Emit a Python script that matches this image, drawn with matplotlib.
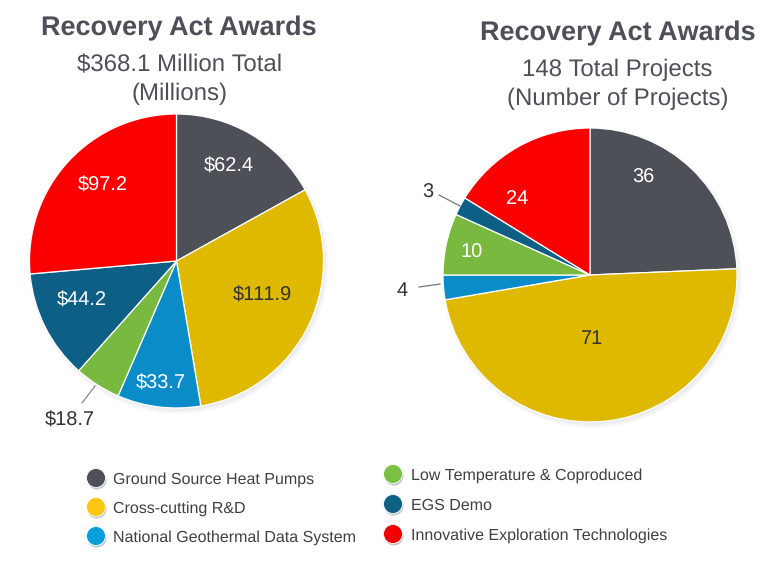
import matplotlib
matplotlib.use("Agg")
import matplotlib.pyplot as plt
from matplotlib.patches import Circle

plt.rcParams["font.family"] = ["Liberation Sans", "DejaVu Sans"]
plt.rcParams["text.hinting"] = "no_hinting"
plt.rcParams["text.hinting_factor"] = 1

W, H = 780, 569

categories = [
    "Ground Source Heat Pumps",
    "Cross-cutting R&D",
    "National Geothermal Data System",
    "Low Temperature & Coproduced",
    "EGS Demo",
    "Innovative Exploration Technologies",
]
colors = ["#4d5057", "#dfb800", "#0a8cc8", "#7ab93f", "#0d5f86", "#fb0000"]
legend_colors = ["#4d5057", "#fdc60e", "#0a9ddb", "#7ac143", "#0f6184", "#f00000"]

funding = [62.4, 111.9, 33.7, 18.7, 44.2, 97.2]
funding_labels = ["$62.4", "$111.9", "$33.7", "$18.7", "$44.2", "$97.2"]
projects = [36, 71, 4, 10, 3, 24]
project_labels = ["36", "71", "4", "10", "3", "24"]

fig = plt.figure(figsize=(W / 100, H / 100), dpi=100, facecolor="white")

# soft shadows sit on their own axes under the pies
bg = fig.add_axes([0, 0, 1, 1], facecolor="none")
bg.set_xlim(0, W)
bg.set_ylim(H, 0)
bg.axis("off")


def draw_shadow(ax, cx, cy, r, steps=5, alpha=0.025):
    for i in range(steps):
        ax.add_patch(Circle((cx + 2, cy + 3), r + steps - i - 2, facecolor="#607080",
                            edgecolor="none", alpha=alpha))


def draw_pie(cx, cy, r, values):
    draw_shadow(bg, cx, cy, r)
    ax = fig.add_axes([(cx - r) / W, 1 - (cy + r) / H, 2 * r / W, 2 * r / H])
    ax.pie(
        values,
        colors=colors,
        startangle=90,
        counterclock=False,
        radius=1.0,
        wedgeprops={"edgecolor": "white", "linewidth": 0.9},
    )
    ax.set_xlim(-1, 1)
    ax.set_ylim(-1, 1)
    ax.set_aspect("equal")
    ax.axis("off")


draw_pie(176.5, 261, 147, funding)
draw_pie(590, 275, 147, projects)

# overlay in pixel coordinates for titles, callouts and legend
ov = fig.add_axes([0, 0, 1, 1], facecolor="none")
ov.set_xlim(0, W)
ov.set_ylim(H, 0)
ov.axis("off")

title_color = "#4d5057"
ov.text(179, 28, "Recovery Act Awards", fontsize=19.2, fontweight="bold", color=title_color, ha="center", va="center")
ov.text(179.5, 65, "$368.1 Million Total", fontsize=17, color=title_color, ha="center", va="center")
ov.text(179.5, 94, "(Millions)", fontsize=17, color=title_color, ha="center", va="center")
ov.text(617.5, 33, "Recovery Act Awards", fontsize=19.2, fontweight="bold", color=title_color, ha="center", va="center")
ov.text(617.5, 70, "148 Total Projects", fontsize=17, color=title_color, ha="center", va="center")
ov.text(617.5, 99, "(Number of Projects)", fontsize=17, color=title_color, ha="center", va="center")

dark = "#333333"
label_x = [229, 262, 161, 70, 82, 103]
label_y = [166, 295, 383, 420, 300, 185]
label_c = ["white", dark, "white", dark, "white", "white"]
for x, y, c, lab in zip(label_x, label_y, label_c, funding_labels):
    ov.text(x, y, lab, fontsize=14.2, color=c, ha="center", va="center")

label_x = [643, 592, 402, 472, 428, 517]
label_y = [178, 339, 291, 253, 193, 199]
label_c = ["white", dark, dark, "white", dark, "white"]
for x, y, c, lab in zip(label_x, label_y, label_c, project_labels):
    ov.text(x, y, lab, fontsize=14.2, color=c, ha="center", va="center")

ov.plot([82, 95], [403, 386], color="#888888", lw=0.9)
ov.plot([419, 440], [287, 284], color="#777777", lw=0.9)
ov.plot([439, 460], [195, 206], color="#777777", lw=0.9)

legend_x = [96, 96, 96, 393, 393, 393]
legend_y = [478, 507, 536, 474, 504, 534]
text_x = [113, 113, 113, 411, 411, 411]
for x, y, tx, c, name in zip(legend_x, legend_y, text_x, legend_colors, categories):
    ov.add_patch(Circle((x + 1, y + 2), 9.5, facecolor="#9aa3ad", edgecolor="none", alpha=0.6))
    ov.add_patch(Circle((x, y), 9.5, facecolor=c, edgecolor="white", linewidth=0.6))
    ov.text(tx, y + 1.5, name, fontsize=11.7, color="#404040", ha="left", va="center")

fig.savefig("out.png", dpi=100)
